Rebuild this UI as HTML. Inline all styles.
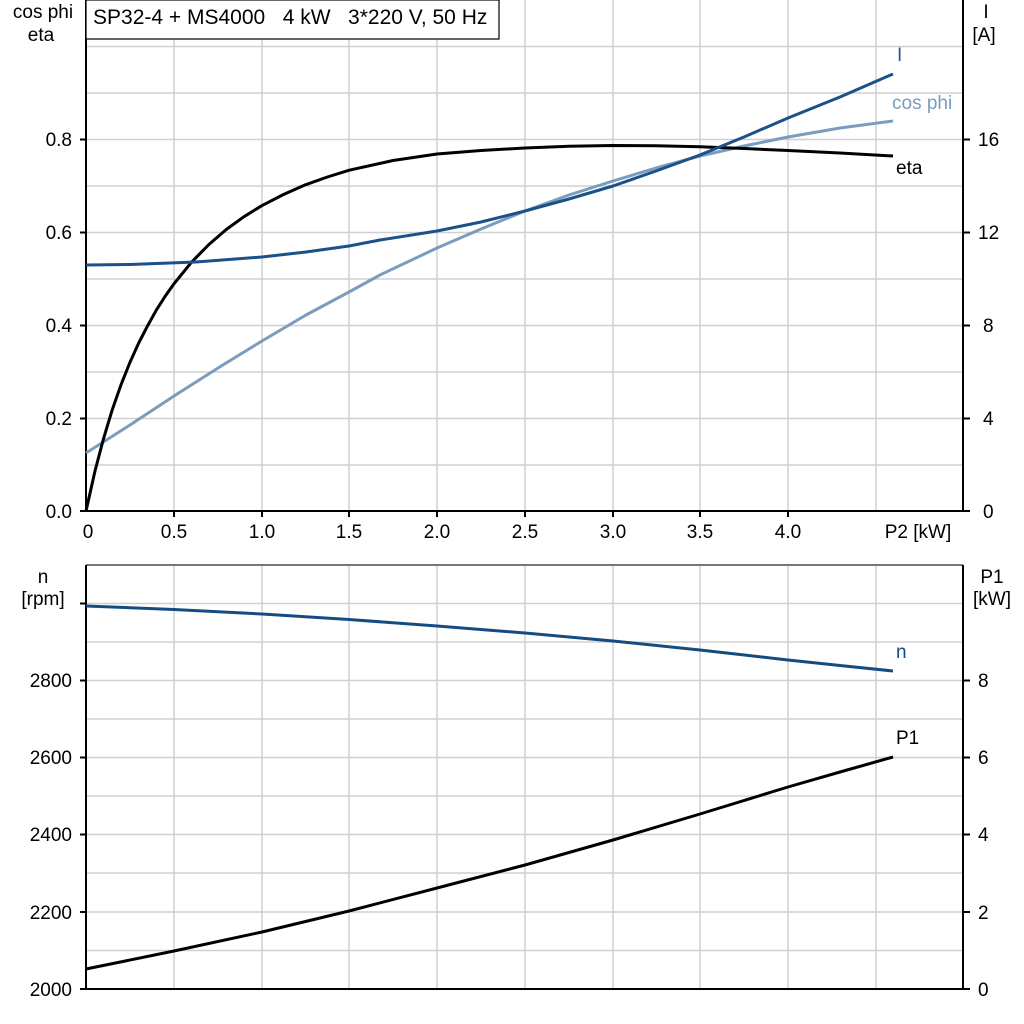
<!DOCTYPE html>
<html><head><style>
body{margin:0;background:#fff}
svg{display:block}
text{font-family:"Liberation Sans",sans-serif;font-size:19px;fill:#000;white-space:pre}
</style></head><body>
<svg width="1024" height="1024" viewBox="0 0 1024 1024">
<g stroke="#d0d0d0" stroke-width="1.5" fill="none">
<path d="M174 0V511M262 0V511M349 0V511M437 0V511M525 0V511M613 0V511M700 0V511M788 0V511M876 0V511"/>
<path d="M86 46.5H963M86 93H963M86 139.5H963M86 186H963M86 232.5H963M86 279H963M86 325.5H963M86 372H963M86 418.5H963M86 465H963"/>
<path d="M174 565V989M262 565V989M349 565V989M437 565V989M525 565V989M613 565V989M700 565V989M788 565V989M876 565V989"/>
<path d="M86 603.5H963M86 642H963M86 680.5H963M86 719H963M86 757.5H963M86 796H963M86 834.5H963M86 873H963M86 912H963M86 950.5H963"/>
</g>
<line x1="86" y1="565" x2="963" y2="565" stroke="#777" stroke-width="2"/>
<g stroke="#000" stroke-width="2" fill="none">
<path d="M86 0V511H963V0"/>
<path d="M86 565V989M963 565V989M86 989H963"/>
<path d="M80 139.5H86M80 232.5H86M80 325.5H86M80 418.5H86M80 511H86M963 139.5H970M963 232.5H970M963 325.5H970M963 418.5H970M963 511H970"/>
<path d="M80 603.5H86M80 680.5H86M80 757.5H86M80 834.5H86M80 912H86M80 989H86M963 680.5H970M963 757.5H970M963 834.5H970M963 912H970M963 989H970"/>
<path d="M174 511V517M262 511V517M349 511V517M437 511V517M525 511V517M613 511V517M700 511V517M788 511V517"/>
</g>
<rect x="86" y="0" width="413" height="39" fill="#fff" stroke="#000" stroke-width="1.2"/>
<text x="93" y="24" xml:space="preserve" style="font-size:21px">SP32-4 + MS4000   4 kW   3*220 V, 50 Hz</text>
<g text-anchor="middle">
<text x="43" y="18">cos phi</text><text x="41" y="41">eta</text>
<text x="986" y="18">I</text><text x="984" y="41">[A]</text>
<text x="43" y="583">n</text><text x="43" y="605">[rpm]</text>
<text x="992" y="583">P1</text><text x="992" y="605">[kW]</text>
<text x="88" y="538">0</text><text x="174" y="538">0.5</text><text x="262" y="538">1.0</text><text x="349" y="538">1.5</text><text x="437" y="538">2.0</text><text x="525" y="538">2.5</text><text x="613" y="538">3.0</text><text x="700" y="538">3.5</text><text x="788" y="538">4.0</text><text x="918" y="538">P2 [kW]</text>
</g>
<g text-anchor="end">
<text x="72" y="146">0.8</text><text x="72" y="239">0.6</text><text x="72" y="332">0.4</text><text x="72" y="425">0.2</text><text x="72" y="518">0.0</text>
<text x="72" y="687">2800</text><text x="72" y="764">2600</text><text x="72" y="841">2400</text><text x="72" y="919">2200</text><text x="72" y="996">2000</text>
</g>
<g text-anchor="start">
<text x="978" y="146">16</text><text x="978" y="239">12</text><text x="983" y="332">8</text><text x="983" y="425">4</text><text x="983" y="518">0</text>
<text x="978" y="687">8</text><text x="978" y="764">6</text><text x="978" y="841">4</text><text x="978" y="919">2</text><text x="978" y="996">0</text>
</g>
<g fill="none" stroke-width="3" stroke-linejoin="round">
<polyline stroke="#7a9cbd" points="86,453 130,425 174,396 218,368 262,341 306,315 349,292 380,275 437,248 481,229 525,211 569,195 613,181 656,168 700,156 744,146 788,137 840,128 893,121"/>
<polyline stroke="#000" points="86,511 90.4,491.5 94.8,471.8 103.6,438.4 112.3,409.6 121.1,384.5 129.9,362.5 138.7,343 147.5,326 156.2,310.3 165,296.5 173.8,284 191.3,262.4 208.9,244.5 226.4,229.4 244,216.7 261.5,205.8 283.5,194.5 305.4,184.8 327.4,177 349.3,170.2 393,160.5 437,154 481,150.5 524.8,148 569,146.3 612.5,145.5 656,145.7 700,146.8 744,148.5 788,150.5 840,153 893,156"/>
<polyline stroke="#1a5189" points="86,265 130,264.5 196,262 262,257 306,252 349,246 380,240 437,231 481,222 525,211 569,199 613,186 656,171 700,155 744,137 788,118 840,97 893,74"/>
<polyline stroke="#144c82" points="86,606 174,609.5 262,614 349,619.5 437,626 525,633 613,641 700,650 788,660 840,665.5 893,671"/>
<polyline stroke="#000" points="86,969 174,951 262,932 349,911 437,888 525,865 613,840 700,814 788,787 840,772 893,757"/>
</g>
<text x="897" y="61" style="fill:#2a568f">I</text>
<text x="892" y="109" style="fill:#7a9cbd">cos phi</text>
<text x="896" y="174">eta</text>
<text x="896" y="658" style="fill:#144c82">n</text>
<text x="896" y="744">P1</text>
</svg>
</body></html>
